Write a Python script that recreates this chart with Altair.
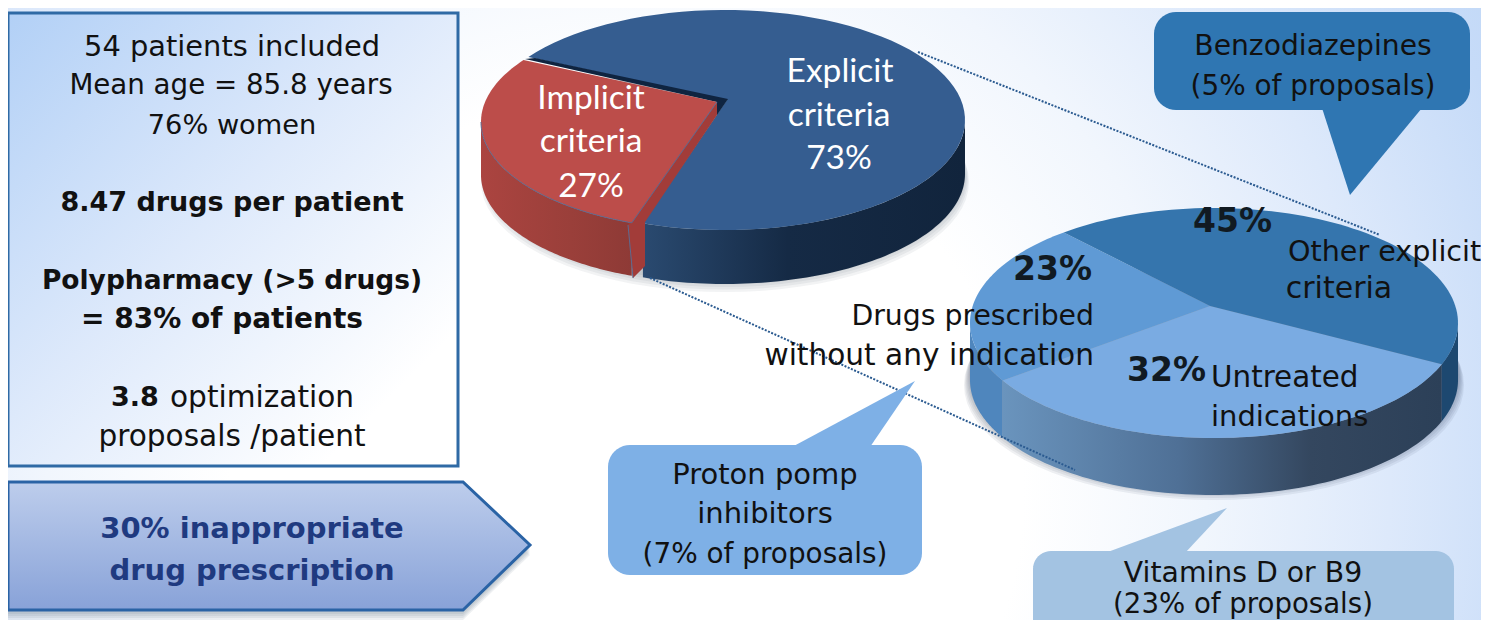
import math
import altair as alt

WIDTH, HEIGHT = 1473, 612
MIN_X, MIN_Y, MAX_X, MAX_Y = 8, 8, 1481, 620
TEXT_DY = 1.5

# Text tables: line, x, y, anchor, size, weight, colour, font
BODY = "DejaVu Sans"
PIEF = "Lato"
INK = "#111111"
PCT = "#111a22"
texts = [
    ("54 patients included", 232, 45, "center", 28.9, "normal", INK, BODY),
    ("Mean age = 85.8 years", 231, 84, "center", 27.7, "normal", INK, BODY),
    ("76% women", 232, 124, "center", 27.2, "normal", INK, BODY),
    ("8.47 drugs per patient", 232, 201, "center", 27, "bold", INK, BODY),
    ("Polypharmacy (>5 drugs)", 232, 279, "center", 26.5, "bold", INK, BODY),
    ("= 83% of patients", 222, 318, "center", 28, "bold", INK, BODY),
    ("3.8", 111, 396, "left", 27, "bold", INK, BODY),
    ("optimization", 170, 396, "left", 29.6, "normal", INK, BODY),
    ("proposals /patient", 232, 435, "center", 29.6, "normal", INK, BODY),
    ("30% inappropriate", 252, 527, "center", 29, "bold", "#1f3a80", BODY),
    ("drug prescription", 252, 569, "center", 29, "bold", "#1f3a80", BODY),
    ("Explicit", 840, 70, "center", 33.5, "normal", "#ffffff", PIEF),
    ("criteria", 839, 114, "center", 33.5, "normal", "#ffffff", PIEF),
    ("73%", 839, 157, "center", 33.5, "normal", "#ffffff", PIEF),
    ("Implicit", 591, 97, "center", 33.5, "normal", "#ffffff", PIEF),
    ("criteria", 591, 140, "center", 33.5, "normal", "#ffffff", PIEF),
    ("27%", 591, 185, "center", 33.5, "normal", "#ffffff", PIEF),
    ("45%", 1193, 220, "left", 33, "bold", PCT, BODY),
    ("23%", 1092, 268, "right", 33, "bold", PCT, BODY),
    ("32%", 1127, 369, "left", 33, "bold", PCT, BODY),
    ("Other explicit", 1288, 250, "left", 28.6, "normal", INK, BODY),
    ("criteria", 1339, 287, "center", 30, "normal", INK, BODY),
    ("Untreated", 1211, 376, "left", 29.4, "normal", INK, BODY),
    ("indications", 1211, 415, "left", 29, "normal", INK, BODY),
    ("Drugs prescribed", 1094, 315, "right", 28.3, "normal", INK, BODY),
    ("without any indication", 1094, 354, "right", 29.6, "normal", INK, BODY),
    ("Benzodiazepines", 1313, 45, "center", 28.2, "normal", INK, BODY),
    ("(5% of proposals)", 1313, 85, "center", 27.9, "normal", INK, BODY),
    ("Proton pomp", 765, 473, "center", 29, "normal", INK, BODY),
    ("inhibitors", 765, 512, "center", 29, "normal", INK, BODY),
    ("(7% of proposals)", 765, 553, "center", 27.9, "normal", INK, BODY),
    ("Vitamins D or B9", 1243, 572, "center", 28.3, "normal", INK, BODY),
    ("(23% of proposals)", 1243, 603, "center", 27.6, "normal", INK, BODY),
]


def arc(cx, cy, rx, ry, a0, a1, dy=0, n=80):
    return [
        [
            cx + rx * math.cos(math.radians(a0 + (a1 - a0) * i / n)),
            cy + dy + ry * math.sin(math.radians(a0 + (a1 - a0) * i / n)),
        ]
        for i in range(n + 1)
    ]


def rounded(x0, y0, x1, y1, r):
    return (
        arc(x0 + r, y0 + r, r, r, 180, 270, n=10)
        + arc(x1 - r, y0 + r, r, r, 270, 360, n=10)
        + arc(x1 - r, y1 - r, r, r, 0, 90, n=10)
        + arc(x0 + r, y1 - r, r, r, 90, 180, n=10)
    )


def clamp(points):
    return [[min(max(p[0], MIN_X), MAX_X), min(max(p[1], MIN_Y), MAX_Y)] for p in points]


PROJ_ARGS = dict(type="identity")


def poly(points, **mark):
    pts = clamp(list(points) + [points[0]])
    data = alt.Data(values=[{"type": "Feature", "properties": {},
                             "geometry": {"type": "Polygon", "coordinates": [pts]}}])
    return alt.Chart(data).mark_geoshape(**mark).project(**PROJ_ARGS)


def line(points, **mark):
    data = alt.Data(values=[{"type": "Feature", "properties": {},
                             "geometry": {"type": "LineString", "coordinates": clamp(points)}}])
    return alt.Chart(data).mark_geoshape(filled=False, **mark).project(**PROJ_ARGS)


def hgrad(*stops):
    return alt.Gradient(gradient="linear", x1=0, x2=1, y1=0, y2=0,
                        stops=[alt.GradientStop(offset=o, color=c) for o, c in stops])


def vgrad(*stops):
    return alt.Gradient(gradient="linear", x1=0, x2=0, y1=0, y2=1,
                        stops=[alt.GradientStop(offset=o, color=c) for o, c in stops])


layers = []

# Page background
bg = alt.Gradient(gradient="radial", x1=0.42, y1=0.62, r1=0.02, x2=0.42, y2=0.62, r2=0.85,
                  stops=[alt.GradientStop(offset=0, color="#ffffff"),
                         alt.GradientStop(offset=0.3, color="#ffffff"),
                         alt.GradientStop(offset=0.45, color="#f1f6fd"),
                         alt.GradientStop(offset=0.6, color="#dde9fb"),
                         alt.GradientStop(offset=0.75, color="#c6dbf8"),
                         alt.GradientStop(offset=1, color="#b4d1f5")])
layers.append(poly([[0, 0], [1489, 0], [1489, 628], [0, 628]], fill=bg, stroke=None))

# Left panel
panel = alt.Gradient(gradient="linear", x1=0, y1=0, x2=1, y2=1,
                     stops=[alt.GradientStop(offset=0, color="#b2d0f6"),
                            alt.GradientStop(offset=0.45, color="#dde9fb"),
                            alt.GradientStop(offset=0.85, color="#ffffff"),
                            alt.GradientStop(offset=1, color="#ffffff")])
layers.append(poly([[6, 13], [458, 13], [458, 466], [6, 466]], fill=panel, stroke="#2f6aa5", strokeWidth=3))

# Arrow panel
for k in range(4):
    layers.append(poly([[6, 486 + k * 2], [463, 486 + k * 2], [530, 549 + k * 2], [463, 614 + k * 2], [6, 614 + k * 2]],
                       fill="#5a6a80", fillOpacity=0.1, stroke=None))
layers.append(poly([[6, 482], [463, 482], [530, 545], [463, 610], [6, 610]],
                   fill=vgrad((0, "#bdcdec"), (1, "#88a2d8")), stroke="#2a63a5", strokeWidth=3))

# Upper pie: soft shadow
for k in range(5):
    layers.append(poly(arc(725, 122, 240 + k, 110, 0, 360, dy=50 + k * 2.5), fill="#203040", fillOpacity=0.06, stroke=None))

# Upper pie: explicit side
BL = (725, 120, 240, 110)
ex_top = arc(*BL, 0, 110)
ex_low = arc(*BL, 0, 110, dy=54)
layers.append(poly(ex_top + ex_low[::-1], fill=hgrad((0, "#2a4a70"), (0.45, "#152a45"), (1, "#11243c")), stroke=None))
# Upper pie: explicit face
layers.append(poly([[727, 100]] + arc(*BL, 215, 470), fill="#355d90", stroke=None))
layers.append(poly([[535, 58], [728, 99], [717, 115], [717, 102], [525, 59]], fill="#0f2440", stroke=None))

# Upper pie: implicit side, cut and face
RD = (716, 122, 235, 108)
rd_top = arc(*RD, 180, 111)
rd_low = arc(*RD, 180, 111, dy=53)
layers.append(poly(rd_top + rd_low[::-1], fill=hgrad((0, "#ab4440"), (0.6, "#9a3f3a"), (1, "#8e3a36")), stroke=None))
layers.append(poly([[717, 102], [628, 225], [633, 278], [645, 266], [645, 222], [717, 115]],
                   fill="#a23c39", stroke=None))
layers.append(poly([[717, 102]] + arc(*RD, 215, 111), fill="#bc4d4a", stroke=None))
layers.append(line(arc(*RD, 180, 111) + [[717, 102]], stroke="#5d6a90", strokeWidth=1))
layers.append(line([[628, 225], [633, 278]], stroke="#5d6a90", strokeWidth=1))

# Lower pie: soft shadow
for k in range(6):
    layers.append(poly(arc(1214, 325, 245 + k, 115, 0, 360, dy=50 + k * 2), fill="#203040", fillOpacity=0.07, stroke=None))

# Lower pie: sides
GP = (1214, 323, 244, 115)
layers.append(poly(arc(*GP, 180, 150) + arc(*GP, 150, 180, dy=57), fill="#4f86bd", stroke=None))
layers.append(poly(arc(*GP, 21, 150) + arc(*GP, 150, 21, dy=57),
                   fill=hgrad((0, "#6a94bd"), (0.4, "#4f7096"), (0.7, "#34475f"), (1, "#2c4058")), stroke=None))
layers.append(poly(arc(*GP, 0, 21) + arc(*GP, 21, 0, dy=57), fill="#1d4870", stroke=None))

# Lower pie: faces
layers.append(poly([[1210, 306]] + arc(*GP, 21, 150), fill="#7aabe2", stroke=None))
layers.append(poly([[1210, 306]] + arc(*GP, 150, 232), fill="#5f9ad5", stroke=None))
layers.append(poly([[1210, 306]] + arc(*GP, 232, 381), fill="#3575ad", stroke=None))

# Dotted connectors
layers.append(line([[918, 52], [1380, 235]], stroke="#2a5a90", strokeWidth=2, strokeDash=[2, 1.5]))
layers.append(line([[650, 278], [1075, 470]], stroke="#2a5a90", strokeWidth=2, strokeDash=[2, 1.5]))

# Callouts
layers.append(poly(rounded(1154, 12, 1470, 110, 22), fill="#2f76b2", stroke=None))
layers.append(poly([[1322, 108], [1350, 195], [1422, 108]], fill="#2f76b2", stroke=None))
layers.append(poly(rounded(608, 445, 922, 575, 22), fill="#7eb0e6", stroke=None))
layers.append(poly([[792, 447], [915, 381], [870, 447]], fill="#7eb0e6", stroke=None))
layers.append(poly(rounded(1033, 551, 1454, 660, 18), fill="#a3c3e2", stroke=None))
layers.append(poly([[1105, 553], [1227, 508], [1185, 553]], fill="#a3c3e2", stroke=None))

# Text
for txt, x, y, anchor, size, weight, color, font in texts:
    layers.append(
        alt.Chart(alt.Data(values=[{"t": txt, "lon": x, "lat": y + TEXT_DY}]))
        .mark_text(align=anchor, baseline="middle", fontSize=size, fontWeight=weight, color=color, font=font)
        .encode(longitude="lon:Q", latitude="lat:Q", text="t:N")
        .project(**PROJ_ARGS)
    )

chart = alt.layer(*layers).properties(
    width=WIDTH, height=HEIGHT, padding=0,
    autosize=alt.AutoSizeParams(type="none"),
).configure_view(stroke=None)

chart.save("out.html", embed_options={"renderer": "svg", "actions": False})
